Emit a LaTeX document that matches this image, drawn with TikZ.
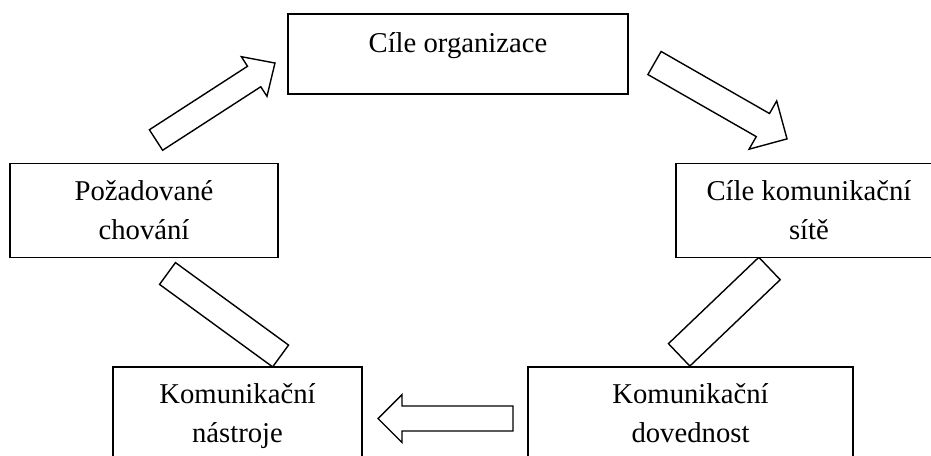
\documentclass[tikz,border=0pt]{standalone}
\usepackage{fontspec}
\setmainfont{Liberation Serif}

% outlined block arrow: tail point, angle, length, shaft width, head width, head length
\newcommand{\blockarrow}[6]{%
  \begin{scope}[shift={#1}, rotate=#2]
    \draw[blk] (0,-#4/2) -- (#3-#6,-#4/2) -- (#3-#6,-#5/2) -- (#3,0)
      -- (#3-#6,#5/2) -- (#3-#6,#4/2) -- (0,#4/2) -- cycle;
  \end{scope}}
% outlined bar: start point, angle, length, width
\newcommand{\blockbar}[4]{%
  \begin{scope}[shift={#1}, rotate=#2]
    \draw[blk] (0,-#4/2) rectangle (#3,#4/2);
  \end{scope}}

\begin{document}
\begin{tikzpicture}[x=1pt, y=-1pt,
  blk/.style={draw=black, fill=white, line width=1.4pt, line join=miter},
  box/.style={draw=black, fill=white, line width=1.3pt, inner sep=0pt, outer sep=0pt},
  lbl/.style={anchor=base, inner sep=0pt, font=\fontsize{28.7}{34}\selectfont}]

\path[use as bounding box] (0,0) rectangle (931,455);
\clip (0,0) rectangle (931,455);

% arrows and bars between the boxes
\blockarrow{(156,140)}{32.9}{141.7}{24.4}{47.2}{24.8}
\blockarrow{(654.5,63)}{-29.8}{152.7}{26.6}{55.6}{27.8}
\blockarrow{(513,418.5)}{180}{135}{25}{48}{24}
\blockbar{(167.5,273.5)}{-36.1}{140}{27}
\blockbar{(769.5,268.5)}{-136.3}{125}{31}

% boxes
\node[box, minimum width=340pt, minimum height=80pt] (org) at (458,54) {};
\node[box, minimum width=268pt, minimum height=94.5pt] (beh) at (144,210.5) {};
\node[box, minimum width=266pt, minimum height=94.5pt] (net) at (809,210.5) {};
\node[box, minimum width=249pt, minimum height=133pt] (tools) at (237.5,433.5) {};
\node[box, minimum width=325pt, minimum height=133pt] (skill) at (690.5,433.5) {};

% labels
\node[lbl] (orgA) at (458,52) {Cíle organizace};
\node[lbl] (behA) at (144,200) {Požadované};
\node[lbl] (behB) at (144,239) {chování};
\node[lbl] (netA) at (809,200) {Cíle komunikační};
\node[lbl] (netB) at (809,239) {sítě};
\node[lbl] (toolsA) at (237.5,403) {Komunikační};
\node[lbl] (toolsB) at (237.5,442) {nástroje};
\node[lbl] (skillA) at (690.5,403) {Komunikační};
\node[lbl] (skillB) at (690.5,442) {dovednost};
\end{tikzpicture}
\end{document}
